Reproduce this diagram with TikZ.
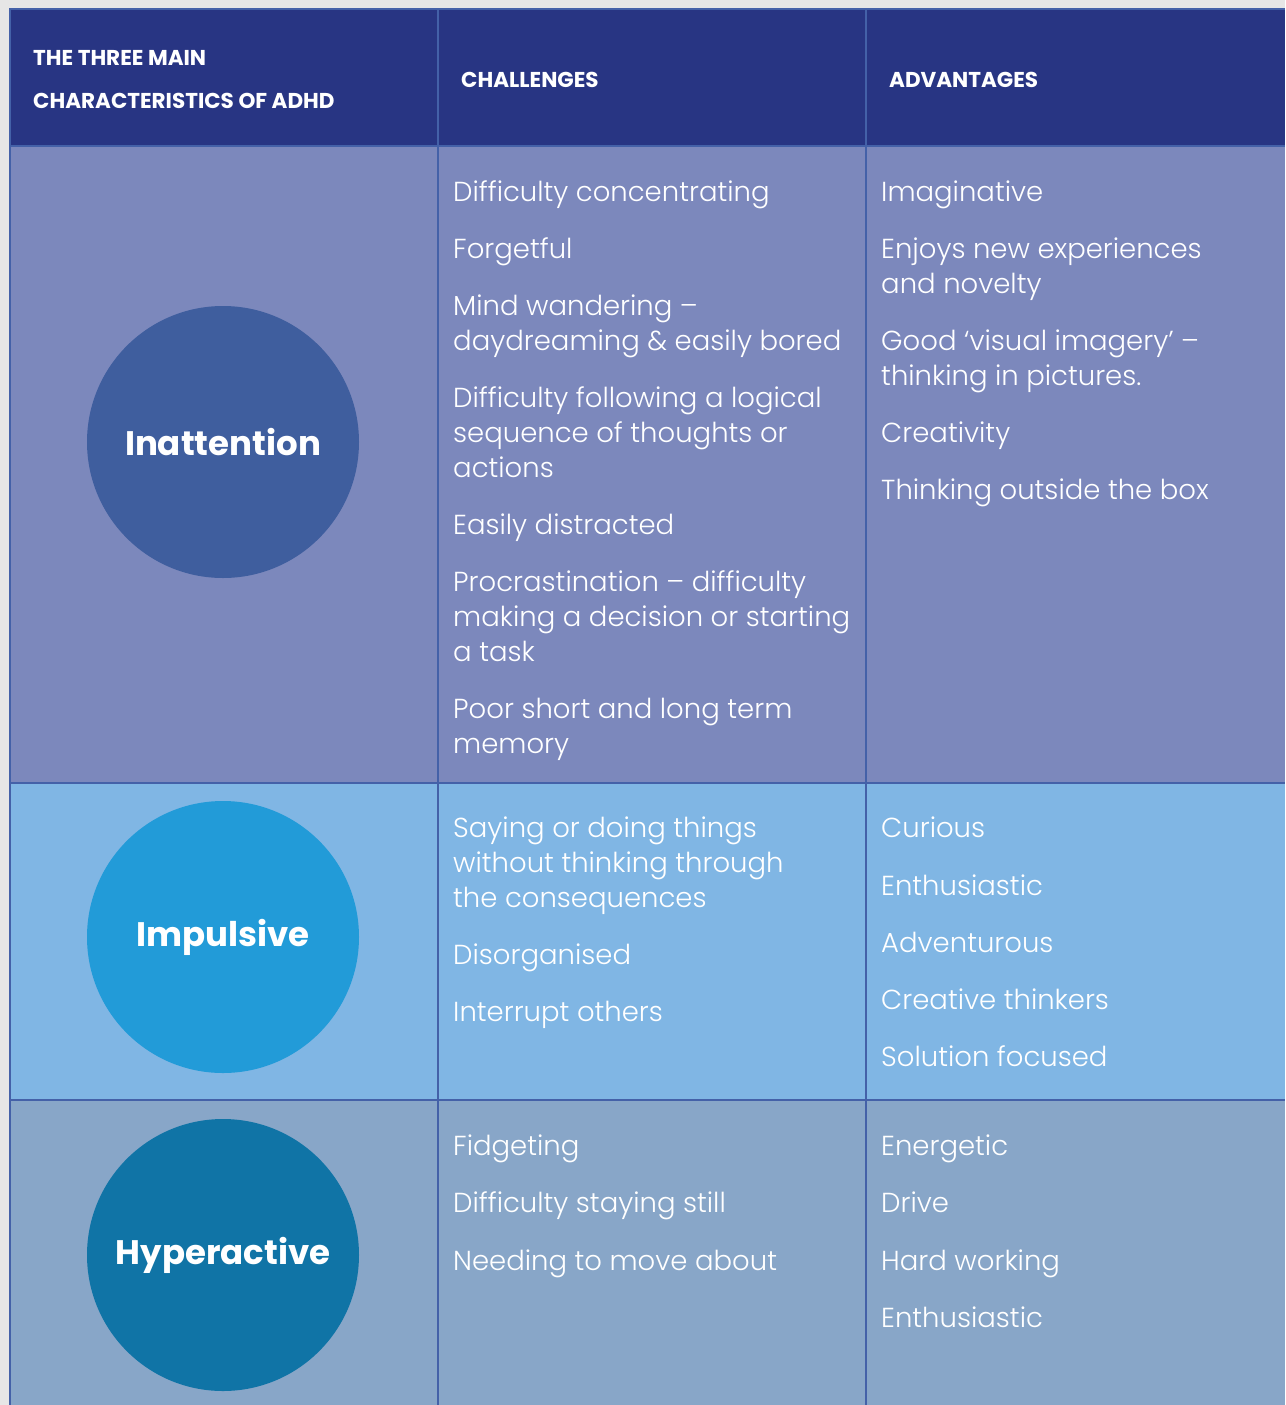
\documentclass[tikz,border=0pt]{standalone}
\usepackage{fontspec}
\newfontfamily\bodyfont{Poppins Light}
\newfontfamily\headfont{Poppins Bold}
\definecolor{pagegrey}{HTML}{E6E6E6}
\definecolor{headblue}{HTML}{283583}
\definecolor{gridblue}{HTML}{4461A8}
\definecolor{rowone}{HTML}{7C88BC}
\definecolor{rowtwo}{HTML}{80B6E4}
\definecolor{rowthree}{HTML}{88A6C8}
\definecolor{dotone}{HTML}{3F5E9E}
\definecolor{dottwo}{HTML}{229BD8}
\definecolor{dotthree}{HTML}{1074A6}

\begin{document}
\begin{tikzpicture}[x=1pt, y=-1pt]
    \tikzstyle{grid} = [draw=gridblue, line width=2pt]
    \tikzstyle{badge} = [circle, minimum size=272pt, inner sep=0pt, text=white, font=\headfont\fontsize{34}{35}\selectfont]
    \tikzstyle{item} = [anchor=base west, inner sep=0pt, align=left, text=white, font=\bodyfont\fontsize{27.5}{35}\selectfont]
    \tikzstyle{head} = [anchor=base west, inner sep=0pt, align=left, text=white, font=\headfont\fontsize{21.5}{43}\selectfont]

    \useasboundingbox (0,0) rectangle (1285,1405);
    \fill [pagegrey] (0,0) rectangle (1285,1405);

    % row backgrounds
    \fill [headblue] (10,9) rectangle (1285,146);
    \fill [rowone] (10,146) rectangle (1285,783);
    \fill [rowtwo] (10,783) rectangle (1285,1100);
    \fill [rowthree] (10,1100) rectangle (1285,1405);

    % table lines
    \draw [grid] (10,1405) -- (10,9) -- (1285,9);
    \foreach \x in {438, 866}
        \draw [grid] (\x,9) -- (\x,1405);
    \foreach \y in {146, 783, 1100}
        \draw [grid] (10,\y) -- (1285,\y);

    % header (multi-line nodes sit on their last baseline)
    \node [head] (title) at (33,108) {THE THREE MAIN\\CHARACTERISTICS OF ADHD};
    \node [head] (chal) at (461,87) {CHALLENGES};
    \node [head] (adv) at (889,87) {ADVANTAGES};

    % the three characteristics
    \node [badge, fill=dotone] (inatt) at (223,442) {Inattention};
    \node [badge, fill=dottwo] (impuls) at (223,937) {Impulsive};
    \node [badge, fill=dotthree] (hyper) at (223,1255) {Hyperactive};

    % challenges
    \foreach \yb/\txt [count=\i] in {201/Difficulty concentrating, 258/Forgetful,
        350/{Mind wandering –\\daydreaming \& easily bored},
        477/{Difficulty following a logical\\sequence of thoughts or\\actions},
        534/Easily distracted,
        661/{Procrastination – difficulty\\making a decision or starting\\a task},
        753/{Poor short and long term\\memory}}
        \node [item] (chA\i) at (453,\yb) {\txt};
    \foreach \yb/\txt [count=\i] in {907/{Saying or doing things\\without thinking through\\the consequences},
        964/Disorganised, 1021/Interrupt others}
        \node [item] (chB\i) at (453,\yb) {\txt};
    \foreach \yb/\txt [count=\i] in {1155/Fidgeting, 1212/Difficulty staying still, 1270/Needing to move about}
        \node [item] (chC\i) at (453,\yb) {\txt};

    % advantages
    \foreach \yb/\txt [count=\i] in {201/Imaginative,
        293/{Enjoys new experiences\\and novelty},
        385/{Good ‘visual imagery’ –\\thinking in pictures.},
        442/Creativity, 499/Thinking outside the box}
        \node [item] (adA\i) at (881,\yb) {\txt};
    \foreach \yb/\txt [count=\i] in {837/Curious, 895/Enthusiastic, 952/Adventurous,
        1009/Creative thinkers, 1066/Solution focused}
        \node [item] (adB\i) at (881,\yb) {\txt};
    \foreach \yb/\txt [count=\i] in {1155/Energetic, 1212/Drive, 1270/Hard working, 1327/Enthusiastic}
        \node [item] (adC\i) at (881,\yb) {\txt};
\end{tikzpicture}
\end{document}
